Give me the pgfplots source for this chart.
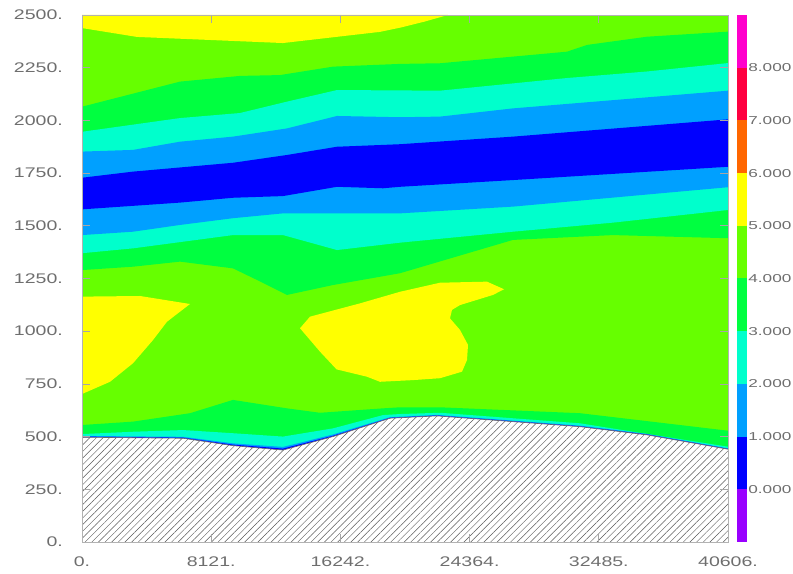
\documentclass[border=0pt]{standalone}
\usepackage{fontspec}
\usepackage{pgfplots}
\pgfplotsset{compat=1.18}
\usetikzlibrary{patterns.meta}
\newfontfamily\tickfont[FakeStretch=1.4]{Liberation Sans}
\newfontfamily\keyfont[FakeStretch=1.5]{Liberation Sans}

% contour level colours, from the lowest class to the highest
\definecolor{lvPurple}{RGB}{153,0,255}
\definecolor{lvBlue}{RGB}{0,0,255}
\definecolor{lvAzure}{RGB}{0,160,255}
\definecolor{lvCyan}{RGB}{0,255,204}
\definecolor{lvGreen}{RGB}{0,255,64}
\definecolor{lvLime}{RGB}{102,255,0}
\definecolor{lvYellow}{RGB}{255,255,0}
\definecolor{lvOrange}{RGB}{255,102,0}
\definecolor{lvRed}{RGB}{255,0,64}
\definecolor{lvMagenta}{RGB}{255,0,204}
\definecolor{labelgray}{RGB}{110,110,110}

\begin{document}
\begin{tikzpicture}
\useasboundingbox (0,0) rectangle (793bp,574bp);

\begin{axis}[
  at={(82bp,32bp)}, anchor=south west,
  width=646bp, height=527bp, scale only axis,
  xmin=0, xmax=40606, ymin=0, ymax=2500,
  scaled ticks=false,
  xtick={0,8121.2,16242.4,24363.6,32484.8,40606},
  xticklabels={0.,8121.,16242.,24364.,32485.,40606.},
  ytick={0,250,...,2500},
  yticklabels={0.,250.,500.,750.,1000.,1250.,1500.,1750.,2000.,2250.,2500.},
  tick pos=both, tick align=inside,
  xticklabel pos=lower, yticklabel pos=left,
  major tick length=8bp,
  axis on top,
  axis line style={draw=gray!60, line width=0.8bp},
  tick style={draw=gray!70, line width=0.7bp},
  xticklabel style={font=\tickfont\fontsize{14}{14}\selectfont, text=labelgray,
    anchor=north, inner sep=0pt, yshift=-15bp},
  yticklabel style={font=\tickfont\fontsize{14}{14}\selectfont, text=labelgray,
    anchor=east, inner sep=0pt, xshift=-19bp},
]
% background class 4--5
\addplot[fill=lvLime, draw=none] coordinates {(0,0) (40606,0) (40606,2500) (0,2500)};

% top yellow cap (5--6)
\addplot[fill=lvYellow, draw=none] coordinates {
  (0,2500) (0,2438) (3457,2396) (12634,2367) (18731,2420) (20000,2440)
  (21500,2468) (23000,2500)};

% upper layered band: 3--4
\addplot[fill=lvGreen, draw=none] coordinates {
  (0,2065) (6160,2184) (9931,2211) (12446,2215) (15777,2255) (19989,2268)
  (22503,2271) (30486,2326) (31743,2358) (35514,2397) (40606,2421)
  (40606,1441) (33377,1456) (27091,1433) (19989,1275) (15777,1219)
  (12886,1172) (12006,1205) (11000,1243) (9491,1298) (6160,1330)
  (3206,1306) (0,1290)};

% 2--3
\addplot[fill=lvCyan, draw=none] coordinates {
  (0,1946) (6160,2011) (9931,2035) (12886,2089) (16029,2144) (22503,2141)
  (30486,2201) (35514,2232) (40606,2272)
  (40606,1575) (33377,1515) (27091,1472) (19989,1420) (16029,1385)
  (12634,1456) (9491,1456) (3206,1393) (0,1370)};

% 1--2
\addplot[fill=lvAzure, draw=none] coordinates {
  (0,1852) (3206,1860) (6160,1899) (9491,1923) (12886,1962) (16029,2021)
  (19989,2015) (22503,2018) (27091,2057) (40606,2141)
  (40606,1683) (27091,1591) (19989,1559) (16029,1559) (12634,1559)
  (9491,1536) (6160,1504) (3206,1472) (0,1456)};

% 0--1 core
\addplot[fill=lvBlue, draw=none] coordinates {
  (0,1728) (3206,1757) (9491,1799) (12886,1836) (16029,1875) (19989,1887)
  (27091,1923) (40606,2005)
  (40606,1780) (27091,1717) (19989,1685) (18920,1678) (16029,1685)
  (12634,1641) (9491,1633) (6160,1610) (0,1578)};

% yellow pocket at the left edge (5--6)
\addplot[fill=lvYellow, draw=none] coordinates {
  (0,1164) (3646,1167) (6789,1129) (5343,1045) (4463,958) (3206,848)
  (1760,760) (0,702)};

% yellow pocket in the middle (5--6)
\addplot[fill=lvYellow, draw=none] coordinates {
  (13703,1014) (14332,1069) (17474,1132) (19989,1187) (22503,1230)
  (25457,1235) (26526,1199) (25834,1172) (23760,1124) (23257,1101)
  (23131,1061) (23760,1006) (24263,935) (24200,863) (23886,808)
  (22503,777) (20806,768) (18731,760) (17914,784) (16000,819)
  (14960,903)};

% layers hugging the terrain
\addplot[fill=lvGreen, draw=none] coordinates {
  (0,555) (3206,571) (6789,611) (9491,674) (12886,634) (14960,613)
  (18920,634) (19989,639) (22503,639) (31303,611) (40606,528)
  (40606,0) (0,0)};
\addplot[fill=lvCyan, draw=none] coordinates {
  (0,512) (3206,523) (6349,531) (9491,516) (12634,500) (15777,539)
  (18920,602) (19989,607) (22503,613) (31303,563) (40606,452)
  (40606,0) (0,0)};
\addplot[fill=lvAzure, draw=none] coordinates {
  (0,503) (6349,499) (9491,468) (12634,451) (15777,510) (19360,592)
  (22314,603) (31303,552) (35514,513) (40606,444)
  (40606,0) (0,0)};
\addplot[fill=lvBlue, draw=none] coordinates {
  (0,500) (6349,495) (9491,462) (12634,443) (15777,504) (19360,589)
  (22314,600) (31303,549) (35514,510) (40606,442)
  (40606,0) (0,0)};

% terrain, hatched
\addplot[fill=white, draw=none] coordinates {
  (0,497) (6349,492) (9491,457) (12634,436) (15777,500) (19360,587)
  (22314,598) (31303,547) (35514,508) (40606,440) (40606,0) (0,0)};
\addplot[pattern={Lines[angle=45, distance=4.7bp, line width=0.45bp]},
  pattern color=black!65, draw=none] coordinates {
  (0,497) (6349,492) (9491,457) (12634,436) (15777,500) (19360,587)
  (22314,598) (31303,547) (35514,508) (40606,440) (40606,0) (0,0)};
\addplot[draw=black!60, line width=0.6bp] coordinates {
  (0,497) (6349,492) (9491,457) (12634,436) (15777,500) (19360,587)
  (22314,598) (31303,547) (35514,508) (40606,440)};
\end{axis}

% colour key
\begin{axis}[
  at={(736.5bp,32bp)}, anchor=south west,
  width=10.5bp, height=527bp, scale only axis,
  xmin=0, xmax=1, ymin=-1, ymax=9,
  hide x axis, axis y line*=right,
  y axis line style={draw=none},
  ytick={0,...,8},
  yticklabels={0.000,1.000,2.000,3.000,4.000,5.000,6.000,7.000,8.000},
  major tick length=0pt, tick style={draw=none},
  yticklabel style={font=\keyfont\fontsize{11.5}{11.5}\selectfont, text=labelgray,
    anchor=west, inner sep=0pt, xshift=1.2bp},
]
\addplot[fill=lvPurple, draw=none]  coordinates {(0,-1) (1,-1) (1,0) (0,0)};
\addplot[fill=lvBlue, draw=none]    coordinates {(0,0) (1,0) (1,1) (0,1)};
\addplot[fill=lvAzure, draw=none]   coordinates {(0,1) (1,1) (1,2) (0,2)};
\addplot[fill=lvCyan, draw=none]    coordinates {(0,2) (1,2) (1,3) (0,3)};
\addplot[fill=lvGreen, draw=none]   coordinates {(0,3) (1,3) (1,4) (0,4)};
\addplot[fill=lvLime, draw=none]    coordinates {(0,4) (1,4) (1,5) (0,5)};
\addplot[fill=lvYellow, draw=none]  coordinates {(0,5) (1,5) (1,6) (0,6)};
\addplot[fill=lvOrange, draw=none]  coordinates {(0,6) (1,6) (1,7) (0,7)};
\addplot[fill=lvRed, draw=none]     coordinates {(0,7) (1,7) (1,8) (0,8)};
\addplot[fill=lvMagenta, draw=none] coordinates {(0,8) (1,8) (1,9) (0,9)};
\end{axis}
\end{tikzpicture}
\end{document}
